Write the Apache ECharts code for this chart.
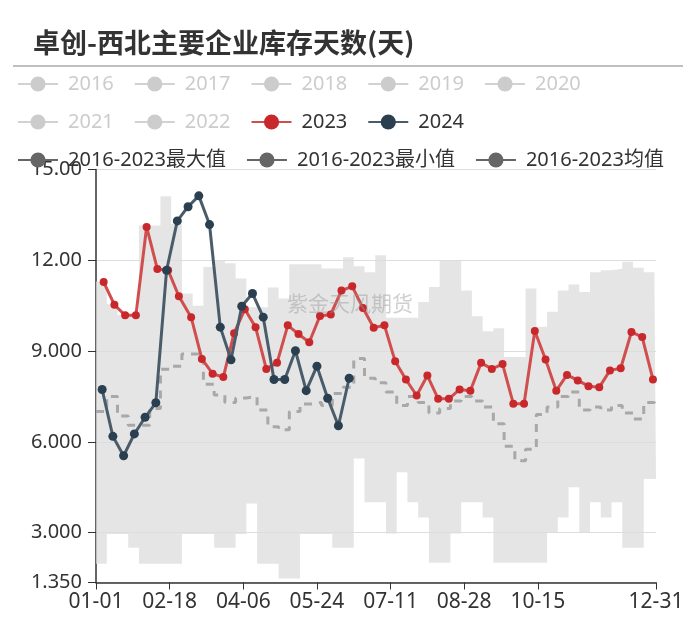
<!DOCTYPE html>
<html>
<head>
<meta charset="utf-8">
<script src="https://cdn.jsdelivr.net/npm/echarts@6/dist/echarts.min.js"></script>
<style>html,body{margin:0;padding:0;background:#fff}#c{width:700px;height:624px}</style>
</head>
<body>
<div id="c"></div>
<script>
// ---- data ----
const yearNames = ['2016','2017','2018','2019','2020','2021','2022'];
const dates2023 = ['01-06','01-13','01-20','01-27','02-03','02-10','02-17','02-24','03-03','03-10','03-17','03-24','03-31','04-07','04-14','04-21','04-28','05-05','05-12','05-19','05-26','06-02','06-09','06-16','06-23','06-30','07-07','07-14','07-21','07-28','08-04','08-11','08-18','08-25','09-01','09-08','09-15','09-22','09-29','10-06','10-13','10-20','10-27','11-03','11-10','11-17','11-24','12-01','12-08','12-15','12-22','12-29'];
const values2023 = [11.28,10.53,10.18,10.18,13.10,11.71,11.67,10.81,10.12,8.74,8.25,8.14,9.59,10.38,9.79,8.41,8.61,9.85,9.56,9.29,10.16,10.21,11.00,11.14,10.42,9.77,9.85,8.66,8.06,7.53,8.19,7.42,7.42,7.73,7.69,8.61,8.41,8.57,7.26,7.26,9.66,8.72,7.69,8.21,8.03,7.84,7.80,8.36,8.43,9.63,9.46,8.06];
const dates2024 = ['01-05','01-12','01-19','01-26','02-02','02-09','02-16','02-23','03-01','03-08','03-15','03-22','03-29','04-05','04-12','04-19','04-26','05-03','05-10','05-17','05-24','05-31','06-07','06-14'];
const values2024 = [7.73,6.18,5.54,6.26,6.81,7.29,11.67,13.30,13.77,14.13,13.18,9.79,8.71,10.48,10.90,10.12,8.06,8.06,9.01,7.69,8.50,7.44,6.53,8.10];
const bandDates = ['01-01','01-08','01-15','01-22','01-29','02-05','02-12','02-19','02-26','03-04','03-11','03-18','03-25','04-01','04-08','04-15','04-22','04-29','05-06','05-13','05-20','05-27','06-03','06-10','06-17','06-24','07-01','07-08','07-15','07-22','07-29','08-05','08-12','08-19','08-26','09-02','09-09','09-16','09-23','09-30','10-07','10-14','10-21','10-28','11-04','11-11','11-18','11-25','12-02','12-09','12-16','12-23','12-30','12-31'];
const maxValues = [11.3,10.55,10.2,10.2,13.15,13.15,14.12,13.2,10.9,10.5,11.78,12.0,11.9,11.4,10.45,10.45,11.1,10.74,11.87,11.87,11.87,11.73,11.73,12.1,11.8,11.6,12.17,10.1,10.1,10.1,10.62,11.12,12.0,12.0,11.0,10.15,9.65,9.75,8.8,8.8,11.07,9.8,10.3,11.0,11.2,10.95,11.6,11.67,11.72,11.95,11.75,11.6,11.1,11.1];
const minValues = [1.97,2.95,2.95,2.5,1.97,1.97,1.97,1.97,2.95,2.95,2.95,2.5,2.5,2.95,3.96,1.97,1.97,1.48,1.48,2.95,2.95,2.95,2.5,2.5,5.45,4.0,4.0,2.97,4.99,4.0,3.5,2.0,2.0,2.97,4.0,4.0,3.5,2.0,2.0,2.0,2.0,2.0,3.0,3.5,4.5,3.0,4.0,3.5,4.0,2.5,2.5,4.77,4.77,4.77];
const avgValues = [7.0,7.5,6.85,6.55,6.55,7.1,8.4,8.5,8.9,8.9,7.9,7.55,7.3,7.45,7.5,7.05,6.5,6.4,7.0,7.25,7.3,7.2,7.6,7.8,8.75,8.1,7.95,7.65,7.2,7.5,7.3,6.95,7.1,7.35,7.5,7.35,7.15,6.6,5.85,5.37,5.75,6.9,7.15,7.5,7.65,7.05,7.15,7.05,7.2,6.95,6.75,7.3,7.42,7.42];
const yMin = 1.35, yMax = 15;

// category axis: every day of a (leap) year, MM-DD
const categories = [];
for (let d = new Date(Date.UTC(2024,0,1)); d.getUTCFullYear() === 2024; d.setUTCDate(d.getUTCDate()+1)) {
  categories.push(String(d.getUTCMonth()+1).padStart(2,'0') + '-' + String(d.getUTCDate()).padStart(2,'0'));
}
const lastIdx = categories.length - 1;
const showIdx = (i) => (i % 48 === 0 && i <= 288) || i === lastIdx;

const pairs = (ds, vs) => ds.map((d, i) => [d, vs[i]]);
const FONT = 'Noto Sans, Noto Sans CJK SC, sans-serif';
const STAT = '#666';
const statName = ['2016-2023最大值','2016-2023最小值','2016-2023均值'];

const series = [];
yearNames.forEach(n => series.push({name: n, type: 'line', data: [], symbol: 'circle', color: '#ccc'}));
series.push({
  name: statName[1], type: 'line', stack: 'band', step: 'end', symbol: 'none', color: STAT,
  lineStyle: {opacity: 0}, data: pairs(bandDates, minValues), z: 1, silent: true
});
series.push({
  name: statName[0], type: 'line', stack: 'band', step: 'end', symbol: 'none', color: STAT,
  lineStyle: {opacity: 0}, areaStyle: {color: '#dcdcdc', opacity: 0.75},
  data: pairs(bandDates, maxValues.map((v, i) => +(v - minValues[i]).toFixed(3))), z: 1, silent: true
});
series.push({
  name: statName[2], type: 'line', step: 'end', symbol: 'none', color: STAT,
  lineStyle: {color: '#a8a8a8', width: 3, type: [8, 7]}, data: pairs(bandDates, avgValues), z: 3
});
series.push({
  name: '2023', type: 'line', symbol: 'circle', symbolSize: 8, showAllSymbol: true, color: '#c23531',
  itemStyle: {color: '#c8282c'}, lineStyle: {color: '#d04e4e', width: 3},
  data: pairs(dates2023, values2023), z: 5
});
series.push({
  name: '2024', type: 'line', symbol: 'circle', symbolSize: 9, showAllSymbol: true, color: '#2f4554',
  itemStyle: {color: '#2a3f50'}, lineStyle: {color: '#4a5c6a', width: 3},
  data: pairs(dates2024, values2024), z: 6
});

const legendBase = {
  left: 12, orient: 'horizontal', itemWidth: 40, itemHeight: 19, itemGap: 20,
  inactiveColor: '#ccc',
  textStyle: {fontSize: 20, color: '#333', fontFamily: FONT, padding: [0, 0, 0, 5]}
};
const selected = {};
yearNames.forEach(n => selected[n] = false);
const statLegendItem = (n) => ({name: n, itemStyle: {color: STAT, opacity: 1}, lineStyle: {color: STAT, width: 2, opacity: 1, type: 'solid'}});

const chart = echarts.init(document.getElementById('c'), null, {renderer: 'canvas'});
chart.setOption({
  animation: false,
  backgroundColor: '#fff',
  title: {
    text: '卓创-西北主要企业库存天数(天)', left: 28, top: 24,
    textStyle: {fontSize: 27, fontWeight: 'bold', color: '#333', fontFamily: 'Noto Sans CJK SC, sans-serif'}
  },
  graphic: [
    {type: 'line', shape: {x1: 13, y1: 66, x2: 683, y2: 66}, style: {stroke: '#aaa', lineWidth: 1.5}, silent: true},
    {type: 'text', left: 287, top: 293, z: 10, silent: true,
     style: {text: '紫金天风期货', font: '21px "Noto Sans CJK SC"', fill: 'rgba(150,150,150,0.45)'}}
  ],
  legend: [
    Object.assign({}, legendBase, {top: 69, data: yearNames.slice(0, 5), selected}),
    Object.assign({}, legendBase, {top: 107, data: yearNames.slice(5).concat(['2023', '2024']), selected}),
    Object.assign({}, legendBase, {top: 145, data: statName.map(statLegendItem)})
  ],
  grid: {left: 96, right: 44, top: 169.5, bottom: 41.5, containLabel: false},
  xAxis: {
    type: 'category', data: categories, boundaryGap: false,
    axisLine: {lineStyle: {color: '#333', width: 1.5}},
    axisTick: {interval: showIdx, length: 7, lineStyle: {color: '#333'}},
    axisLabel: {interval: showIdx, fontSize: 21, color: '#333', fontFamily: FONT, margin: 9},
    splitLine: {show: false}
  },
  yAxis: {
    type: 'value', min: yMin, max: yMax,
    axisLine: {show: true, lineStyle: {color: '#333', width: 1.5}},
    axisTick: {show: true, length: 8, lineStyle: {color: '#333'}},
    axisLabel: {fontSize: 20, color: '#333', fontFamily: FONT, margin: 14, formatter: (v) => Number(v).toPrecision(4)},
    splitLine: {show: true, lineStyle: {color: '#ddd', width: 1}}
  },
  series
});
</script>
</body>
</html>
